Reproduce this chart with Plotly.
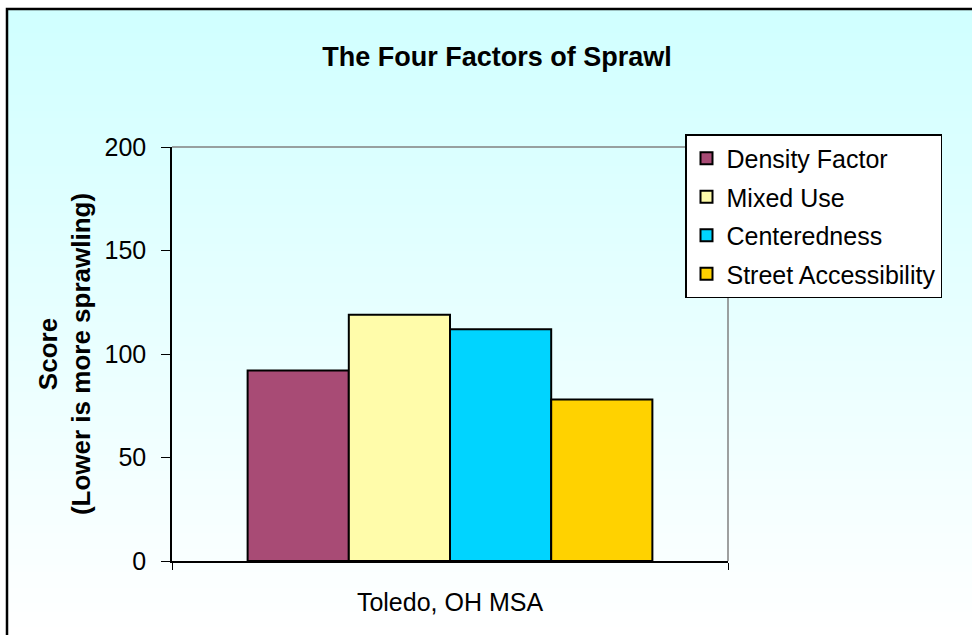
import plotly.graph_objects as go

categories = ["Toledo, OH MSA"]
series_names = ["Density Factor", "Mixed Use", "Centeredness", "Street Accessibility"]
series_values = [[92], [119], [112], [78]]
colors = ["#A84B75", "#FFFCAA", "#00D4FF", "#FFD200"]
y_ticks = [0, 50, 100, 150, 200]

fig = go.Figure()
for i, (name, vals, col) in enumerate(zip(series_names, series_values, colors)):
    fig.add_trace(go.Bar(
        x=categories, y=vals, name=name,
        marker=dict(color=col, line=dict(color="black", width=2)),
        legendgroup=str(i),
    ))

W, H = 972, 635
ml, mr, mt, mb = 172, 244, 147, 74
pw, ph = W - ml - mr, H - mt - mb

def px_x(x):
    return (x - ml) / pw

def px_y(y):
    return (H - mb - y) / ph

shapes = []
# gradient background inside frame
fx0, fy0 = 7, 9
n = 80
top = (208, 255, 255)
bot = (255, 255, 255)
span = H - fy0
for k in range(n):
    y0 = fy0 + k * span / n
    y1 = fy0 + (k + 1) * span / n + 1
    t = (k + 0.5) / n
    c = tuple(int(round(top[j] + (bot[j] - top[j]) * t)) for j in range(3))
    shapes.append(dict(type="rect", xref="paper", yref="paper",
                       x0=px_x(fx0), x1=px_x(W + 5), y0=px_y(min(y1, H + 5)), y1=px_y(y0),
                       fillcolor="rgb(%d,%d,%d)" % c, line=dict(width=0), layer="below"))
# outer frame
shapes.append(dict(type="rect", xref="paper", yref="paper",
                   x0=px_x(fx0), x1=px_x(W + 10), y0=px_y(H + 10), y1=px_y(fy0),
                   line=dict(color="black", width=2.5), layer="above"))
# plot area top & right gray border
shapes.append(dict(type="line", xref="paper", yref="paper", x0=0, x1=1, y0=1, y1=1,
                   line=dict(color="#808080", width=1.5), layer="below"))
shapes.append(dict(type="line", xref="paper", yref="paper", x0=1, x1=1, y0=0, y1=1,
                   line=dict(color="#808080", width=1.5), layer="below"))

fig.update_layout(
    width=W, height=H,
    margin=dict(l=ml, r=mr, t=mt, b=mb),
    paper_bgcolor="white",
    plot_bgcolor="rgba(0,0,0,0)",
    font=dict(family="Liberation Sans, Arial, sans-serif", color="black"),
    title=dict(text="<b>The Four Factors of Sprawl</b>", x=497 / W, xanchor="center",
               y=1 - 57 / H, yanchor="middle", font=dict(size=27)),
    barmode="group", bargap=0.272, bargroupgap=0,
    showlegend=True,
    legend=dict(x=px_x(685), y=px_y(134), xanchor="left", yanchor="top",
                bgcolor="white", bordercolor="black", borderwidth=1.5,
                font=dict(size=25), traceorder="grouped", tracegroupgap=3,
                itemwidth=30),
    xaxis=dict(showline=True, linecolor="black", linewidth=1.5,
               ticks="outside", tickson="boundaries", ticklen=7, tickcolor="black",
               tickfont=dict(size=25), ticklabelstandoff=18),
    yaxis=dict(range=[0, 200], tickvals=y_ticks, showline=True, linecolor="black",
               linewidth=1.5, ticks="outside", ticklen=9, tickcolor="black",
               ticklabelstandoff=10,
               showgrid=False, zeroline=False, tickfont=dict(size=25),
               title=dict(text="<b>Score<br>(Lower is more sprawling)</b>",
                          font=dict(size=26), standoff=6)),
    shapes=shapes,
)

fig.write_html("out.html", config={"displayModeBar": False},
               post_script="document.body.style.margin='0px';")
